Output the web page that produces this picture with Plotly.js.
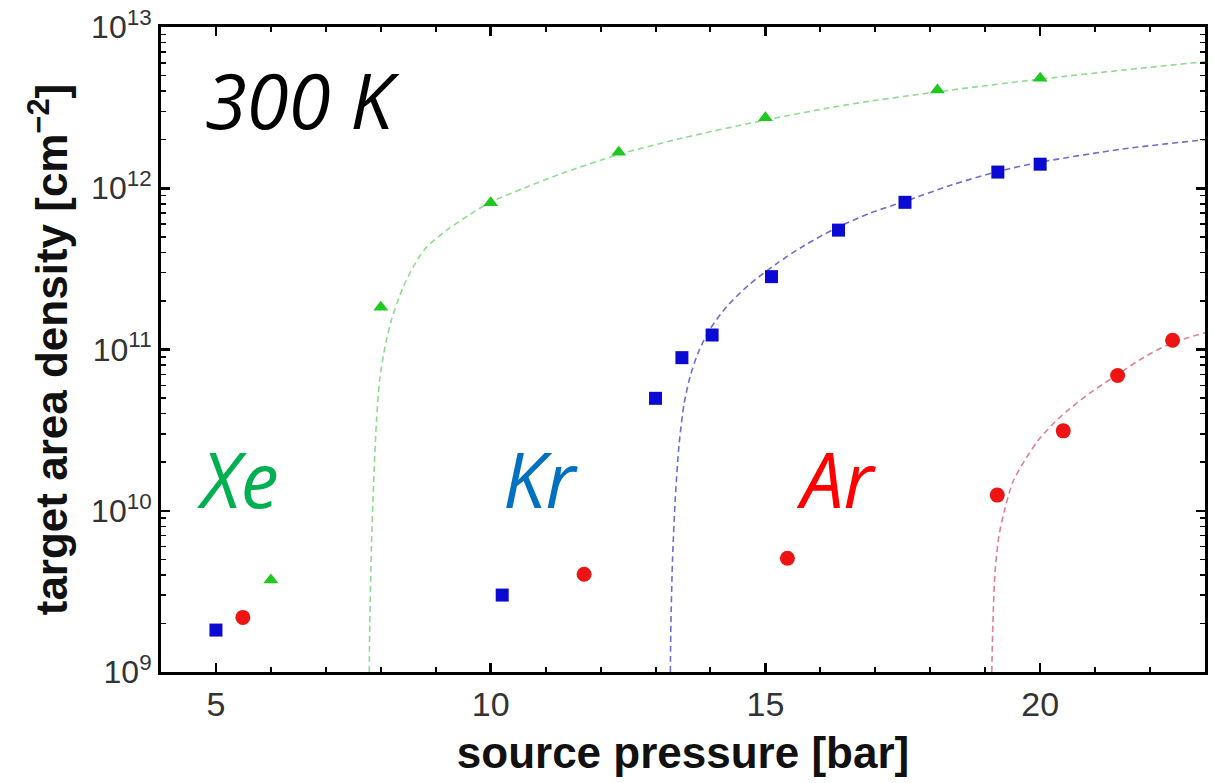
<!DOCTYPE html>
<html>
<head>
<meta charset="utf-8">
<script src="https://cdn.plot.ly/plotly-3.0.1.min.js"></script>
<style>html,body{margin:0;padding:0;background:#fff;}#chart{width:1214px;height:783px;}</style>
</head>
<body>
<div id="chart"></div>
<script>
// Measured points (source pressure [bar], target area density [cm^-2])
const xePressure = [6.0, 8.0, 10.0, 12.33, 15.0, 18.13, 20.0];
const xeDensity  = [3.72e9, 1.83e11, 8.14e11, 1.67e12, 2.74e12, 4.07e12, 4.81e12];

const krPressure = [5.0, 10.21, 13.0, 13.48, 14.03, 15.11, 16.33, 17.54, 19.23, 20.0];
const krDensity  = [1.82e9, 3.0e9, 4.98e10, 8.9e10, 1.23e11, 2.83e11, 5.5e11, 8.18e11, 1.26e12, 1.41e12];

const arPressure = [5.49, 11.70, 15.40, 19.22, 20.42, 21.41, 22.41];
const arDensity  = [2.18e9, 4.04e9, 5.07e9, 1.25e10, 3.13e10, 6.9e10, 1.14e11];

// Dashed fit curves
const xeFitP = [7.79, 7.80, 7.83, 7.87, 7.92, 7.98, 8.08, 8.2, 8.4, 8.6, 8.83, 9.2, 9.6, 10.0, 10.6, 11.25, 12.33, 13.5, 15.0, 16.5, 18.1, 20.0, 21.5, 23.0];
const xeFitD = [1e9, 2e9, 6e9, 1.5e10, 3.5e10, 6.5e10, 1.05e11, 1.55e11, 2.4e11, 3.3e11, 4.3e11, 5.5e11, 6.8e11, 8.2e11, 1.0e12, 1.22e12, 1.62e12, 2.05e12, 2.65e12, 3.3e12, 3.95e12, 4.75e12, 5.4e12, 6.1e12];

const krFitP = [13.27, 13.28, 13.31, 13.36, 13.43, 13.52, 13.64, 13.8, 14.0, 14.3, 14.69, 15.2, 15.7, 16.26, 16.9, 17.54, 18.4, 19.23, 20.0, 21.5, 23.0];
const krFitD = [1e9, 2e9, 5e9, 1.2e10, 2.6e10, 4.6e10, 7e10, 1e11, 1.35e11, 1.85e11, 2.5e11, 3.4e11, 4.4e11, 5.6e11, 7e11, 8.3e11, 1.05e12, 1.27e12, 1.45e12, 1.75e12, 2.0e12];

const arFitP = [19.12, 19.14, 19.18, 19.25, 19.35, 19.5, 19.7, 19.97, 20.25, 20.54, 20.95, 21.41, 21.9, 22.41, 23.0];
const arFitD = [1e9, 2e9, 4.2e9, 7e9, 1.0e10, 1.5e10, 2.0e10, 2.75e10, 3.5e10, 4.3e10, 5.5e10, 7e10, 9e10, 1.1e11, 1.27e11];

const yTickVals = [1e9, 1e10, 1e11, 1e12, 1e13];
const yTickText = ['10<sup>9</sup>', '10<sup>10</sup>', '10<sup>11</sup>', '10<sup>12</sup>', '10<sup>13</sup>'];
const xTickVals = [5, 10, 15, 20];
const yMinorTicks = [];
[1e9, 1e10, 1e11, 1e12].forEach(d => { for (let m = 2; m <= 9; m++) yMinorTicks.push(m * d); });

const FONT = '"Liberation Sans Narrow", "Liberation Sans", Arial, sans-serif';
const LFONT = '"Open Sans", "Noto Sans", sans-serif';
const DASH = '6px,4px';

const traces = [
  {x: xeFitP, y: xeFitD, mode: 'lines', line: {color: '#8fdc8f', width: 1.6, dash: DASH, shape: 'spline', smoothing: 0.8}, hoverinfo: 'skip', showlegend: false},
  {x: krFitP, y: krFitD, mode: 'lines', line: {color: '#6e6ed0', width: 1.6, dash: DASH, shape: 'spline', smoothing: 0.8}, hoverinfo: 'skip', showlegend: false},
  {x: arFitP, y: arFitD, mode: 'lines', line: {color: '#e07f95', width: 1.6, dash: DASH, shape: 'spline', smoothing: 0.8}, hoverinfo: 'skip', showlegend: false},
  {x: xePressure, y: xeDensity, name: 'Xe', mode: 'markers', marker: {symbol: 'triangle-up', size: 13, color: '#1ec81e'}},
  {x: krPressure, y: krDensity, name: 'Kr', mode: 'markers', marker: {symbol: 'square', size: 13, color: '#0a0ad2'}},
  {x: arPressure, y: arDensity, name: 'Ar', mode: 'markers', marker: {symbol: 'circle', size: 15, color: '#ee1414'}}
];

const layout = {
  width: 1214, height: 783,
  margin: {l: 161, r: 9, t: 27, b: 111},
  paper_bgcolor: '#ffffff', plot_bgcolor: '#ffffff',
  showlegend: false,
  xaxis: {
    range: [4, 23],
    tickvals: xTickVals,
    ticks: 'inside', ticklen: 9, tickwidth: 2.5, tickcolor: '#000',
    minor: {dtick: 1, ticks: 'inside', ticklen: 5, tickwidth: 2, tickcolor: '#000', showgrid: false},
    showline: true, linecolor: '#000', linewidth: 3, mirror: 'allticks',
    showgrid: false, zeroline: false,
    tickfont: {family: FONT, size: 34, color: '#333'},
    title: {text: '<b>source pressure [bar]</b>', font: {family: FONT, size: 44, color: '#111'}, standoff: 16}
  },
  yaxis: {
    type: 'log',
    range: [9, 13],
    tickvals: yTickVals, ticktext: yTickText,
    ticks: 'inside', ticklen: 9, tickwidth: 2.5, tickcolor: '#000',
    minor: {tickmode: 'array', tickvals: yMinorTicks, ticks: 'inside', ticklen: 5, tickwidth: 1.5, tickcolor: '#000', showgrid: false},
    showline: true, linecolor: '#000', linewidth: 3, mirror: 'allticks',
    showgrid: false, zeroline: false,
    tickfont: {family: FONT, size: 32, color: '#333'},
    title: {text: '<b>target area density [cm<sup>−2</sup>]</b>', font: {family: FONT, size: 44, color: '#111'}, standoff: 10}
  },
  annotations: [
    {xref: 'paper', yref: 'paper', x: 0.040, y: 0.887, xanchor: 'left', yanchor: 'middle', text: '<i>300 K</i>', showarrow: false, font: {family: LFONT, size: 76, color: '#000'}},
    {xref: 'paper', yref: 'paper', x: 0.073, y: 0.300, xanchor: 'center', yanchor: 'middle', text: '<i>Xe</i>', showarrow: false, font: {family: LFONT, size: 76, color: '#00b050'}},
    {xref: 'paper', yref: 'paper', x: 0.364, y: 0.300, xanchor: 'center', yanchor: 'middle', text: '<i>Kr</i>', showarrow: false, font: {family: LFONT, size: 76, color: '#0070c0'}},
    {xref: 'paper', yref: 'paper', x: 0.647, y: 0.300, xanchor: 'center', yanchor: 'middle', text: '<i>Ar</i>', showarrow: false, font: {family: LFONT, size: 76, color: '#ff0000'}}
  ]
};

Plotly.newPlot('chart', traces, layout, {displayModeBar: false, staticPlot: true});
</script>
</body>
</html>
